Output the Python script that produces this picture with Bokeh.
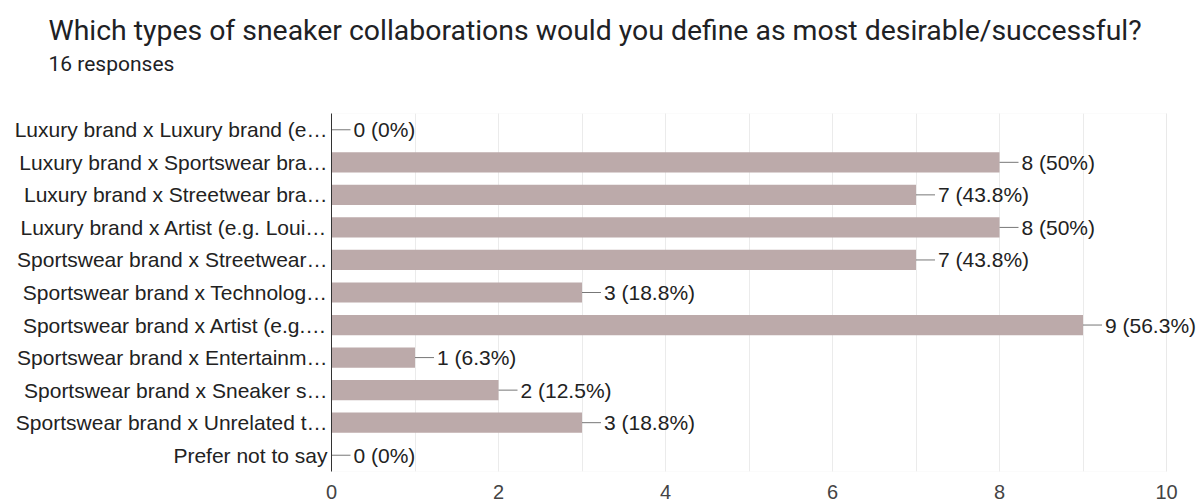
from bokeh.plotting import figure
from bokeh.models import (FactorRange, Range1d, Title, LabelSet, ColumnDataSource,
                          SingleIntervalTicker, BoxAnnotation)
from bokeh.core.properties import value
from bokeh.embed import file_html
from bokeh.resources import INLINE

categories = [
    "Luxury brand x Luxury brand (e…",
    "Luxury brand x Sportswear bra…",
    "Luxury brand x Streetwear bra…",
    "Luxury brand x Artist (e.g. Loui…",
    "Sportswear brand x Streetwear…",
    "Sportswear brand x Technolog…",
    "Sportswear brand x Artist (e.g.…",
    "Sportswear brand x Entertainm…",
    "Sportswear brand x Sneaker s…",
    "Sportswear brand x Unrelated t…",
    "Prefer not to say",
]
counts = [0, 8, 7, 8, 7, 3, 9, 1, 2, 3, 0]
percents = ["0%", "50%", "43.8%", "50%", "43.8%", "18.8%", "56.3%", "6.3%", "12.5%", "18.8%", "0%"]
x_max = 10

title_text = "Which types of sneaker collaborations would you define as most desirable/successful?"
subtitle_text = "16 responses"

FONT = "Liberation Sans"
W, H = 1203, 501
LEFT = 331
PX_PER_UNIT = 83.5
x_end = (W - LEFT) / PX_PER_UNIT
leader = 19 / PX_PER_UNIT

src = ColumnDataSource(dict(
    cat=categories,
    count=counts,
    lead_end=[c + leader for c in counts],
    label=[f"{c} ({p})" for c, p in zip(counts, percents)],
))

p = figure(
    width=W, height=H,
    y_range=FactorRange(*reversed(categories), range_padding=0),
    x_range=Range1d(0, x_end),
    output_backend="svg", toolbar_location=None,
    min_border_left=LEFT, min_border_right=0, min_border_top=113, min_border_bottom=30,
)
p.title = None

spacer = Title(text=" ", text_font_size="1px", standoff=31, offset=-283)
p.add_layout(spacer, "above")
sub = Title(text=subtitle_text, text_font="Roboto", text_font_size="21px",
            text_font_style="normal", text_color="#202124", align="left",
            offset=-283, standoff=8)
p.add_layout(sub, "above")
main = Title(text=title_text, text_font="Roboto", text_font_size="28.4px",
             text_font_style="normal", text_color="#202124", align="left",
             offset=-283, standoff=-2)
p.add_layout(main, "above")

p.add_layout(BoxAnnotation(left=0, right=x_max, fill_color=None, fill_alpha=0,
                           line_color="#e6e6e6", line_width=1, level="underlay"))

p.hbar(y="cat", right="count", left=0, height=0.62, source=src,
       fill_color="#bcaaaa", line_color=None)
p.segment(x0="count", x1="lead_end", y0="cat", y1="cat", source=src,
          line_color="#777777", line_width=1)
labels = LabelSet(x="count", y="cat", text="label", source=src, x_offset=22,
                  text_baseline="middle", text_align="left",
                  text_font=value(FONT), text_font_size=value("21px"),
                  text_color="#222222")
p.add_layout(labels)

p.xaxis.ticker = SingleIntervalTicker(interval=2, num_minor_ticks=2)
p.xaxis.axis_line_color = None
p.xaxis.major_tick_line_color = None
p.xaxis.minor_tick_line_color = None
p.xaxis.major_tick_out = 0
p.xaxis.major_label_text_font = FONT
p.xaxis.major_label_text_font_size = "20px"
p.xaxis.major_label_text_color = "#444444"
p.xaxis.major_label_standoff = 9
p.xaxis.major_label_text_line_height = 0.6

p.yaxis.axis_line_color = "#333333"
p.yaxis.major_tick_line_color = None
p.yaxis.minor_tick_line_color = None
p.yaxis.major_tick_out = 0
p.yaxis.major_label_text_font = FONT
p.yaxis.major_label_text_font_size = "21px"
p.yaxis.major_label_text_color = "#222222"
p.yaxis.major_label_standoff = 4

p.xgrid.grid_line_color = "#ebebeb"
p.xgrid.minor_grid_line_color = "#ebebeb"
p.ygrid.grid_line_color = None
p.outline_line_color = None
p.background_fill_color = "white"
p.border_fill_color = "white"

open("out.html", "w").write(file_html(p, INLINE))
